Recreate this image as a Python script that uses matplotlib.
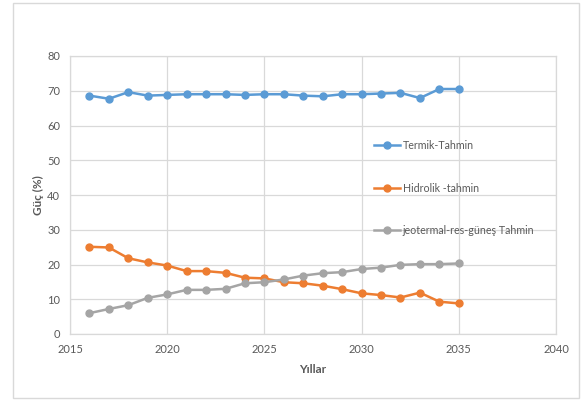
import matplotlib
matplotlib.use("Agg")
import matplotlib.pyplot as plt
from matplotlib.patches import Rectangle

plt.rcParams['font.family'] = ['Lato', 'DejaVu Sans']

# yearly share of power by source (%)
years = list(range(2016, 2036))
termik = [68.6, 67.7, 69.6, 68.6, 68.8, 69.0, 69.0, 69.0, 68.8, 69.0,
          69.0, 68.6, 68.4, 69.0, 69.0, 69.2, 69.4, 67.9, 70.5, 70.5]
hidrolik = [25.1, 24.9, 21.8, 20.6, 19.7, 18.1, 18.1, 17.6, 16.2, 16.0,
            14.9, 14.6, 13.9, 12.9, 11.7, 11.2, 10.5, 11.9, 9.3, 8.8]
yenilenebilir = [6.0, 7.2, 8.3, 10.4, 11.4, 12.7, 12.7, 13.0, 14.6, 14.9,
                 15.7, 16.8, 17.5, 17.8, 18.7, 19.1, 19.9, 20.1, 20.1, 20.3]
labels = ["Termik-Tahmin", "Hidrolik -tahmin", "jeotermal-res-güneş Tahmin"]
colors = ["#5B9BD5", "#ED7D31", "#A5A5A5"]

txt = "#595959"
grid = "#D9D9D9"

fig = plt.figure(figsize=(5.83, 4.0), dpi=100)
ax = fig.add_axes([70 / 583, 66 / 400, 486 / 583, 278 / 400])

# chart area frame
fig.patches.append(Rectangle((13 / 583, 2 / 400), 566 / 583, 395 / 400,
                             transform=fig.transFigure, fill=False,
                             edgecolor=grid, linewidth=1.0))

for ys, lab, c in zip([termik, hidrolik, yenilenebilir], labels, colors):
    ax.plot(years, ys, color=c, linewidth=1.8, marker='o', markersize=5,
            label=lab)

ax.set_xlim(2015, 2040)
ax.set_ylim(0, 80)
ax.set_xticks(range(2015, 2041, 5))
ax.set_yticks(range(0, 81, 10))
ax.grid(True, color=grid, linewidth=0.9)
ax.set_axisbelow(True)
for s in ax.spines.values():
    s.set_color(grid)
    s.set_linewidth(0.9)
ax.tick_params(length=0, labelsize=8, colors=txt, pad=7)

ax.set_xlabel("Yıllar", fontsize=8.5, fontweight='bold', color=txt, labelpad=7)
ax.set_ylabel("Güç (%)", fontsize=8.5, fontweight='bold', color=txt, labelpad=2)

leg = ax.legend(loc='upper left', bbox_to_anchor=(374 / 583, 1 - 140 / 400),
                bbox_transform=fig.transFigure, frameon=False, fontsize=7.7,
                labelspacing=2.95, handlelength=2.4, handletextpad=0.3,
                borderpad=0, borderaxespad=0)
for t in leg.get_texts():
    t.set_color(txt)

fig.savefig("out.png", dpi=100)
